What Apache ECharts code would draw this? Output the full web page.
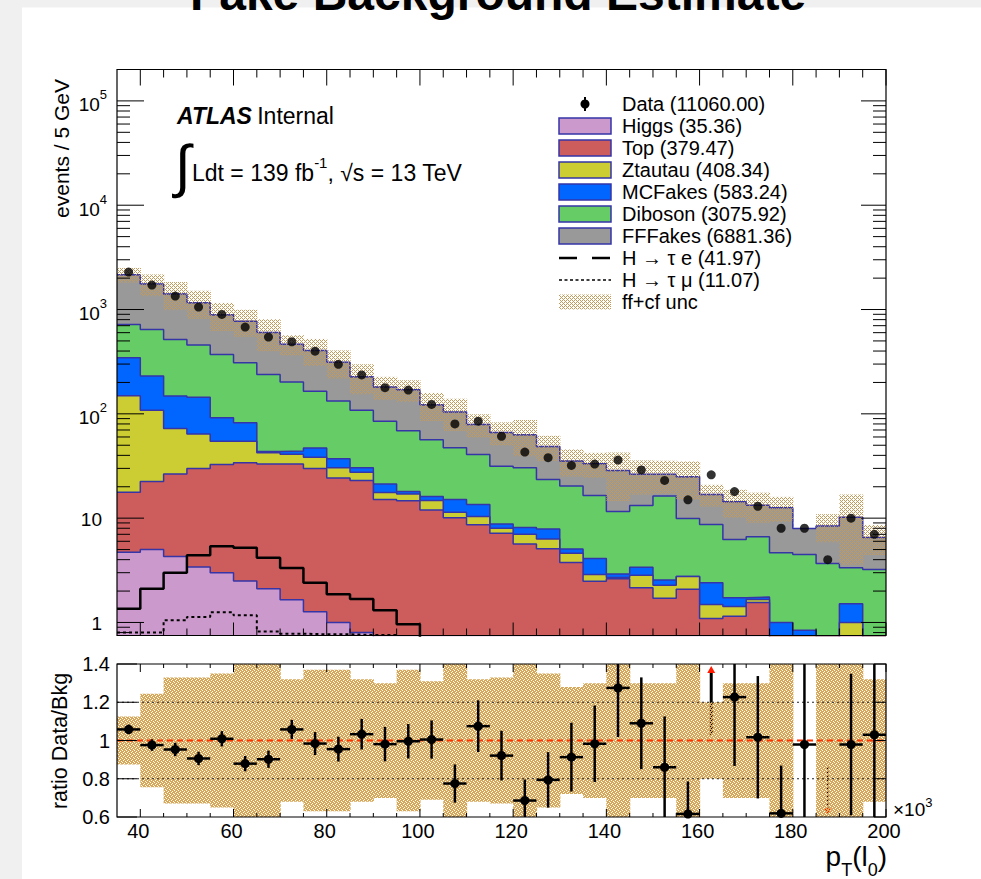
<!DOCTYPE html>
<html>
<head>
<meta charset="utf-8">
<title>Fake Background Estimate</title>
<script src="https://cdn.jsdelivr.net/npm/echarts@6.0.0/dist/echarts.min.js"></script>
<style>
html,body{margin:0;padding:0;background:#f0f0f0;overflow:hidden;}
#chart{width:981px;height:879px;}
</style>
</head>
<body>
<div id="chart"></div>
<script>
// ================= DATA =================
const binLowEdges = [35,40,45,50,55,60,65,70,75,80,85,90,95,100,105,110,115,120,125,130,135,140,145,150,155,160,165,170,175,180,185,190,195];
const BIN_WIDTH = 5;

// background components, events per bin
const higgs    = [4.7,5.0,4.3,3.4,3.0,2.5,2.1,1.65,1.27,1.0,0.8,0.6,0.5,0.4,0.35,0.3,0.25,0.2,0.15,0.1,0.1,0.1,0.05,0.05,0.05,0.05,0.05,0.05,0.02,0.02,0.02,0.02,0.02];
const topQuark = [13.0,17.4,22.2,26.6,29.7,31.5,30.9,31.35,28.7,23.2,22.2,14.5,14.2,11.6,9.75,8.35,6.9,5.45,4.94,3.66,2.39,2.52,2.1,1.66,2.03,1.04,1.1,1.5,0.48,0.28,0.18,0.58,0.28];
const ztautau  = [131,85.6,45.7,34,22,20.7,9.4,8,8.4,6.2,4.6,2.5,2.3,2.8,1.3,1.75,0.85,1.35,1.21,0.86,0.4,0.08,0.68,0.56,0.68,0.4,0.27,0.11,0.05,0,0,0.4,0];
const mcfakes  = [196,123,75.8,80,37.1,27.5,1.2,3,8.6,6.7,2.8,3.6,1.0,1.3,3.7,3.1,0.8,1.15,1.55,0.43,1.21,0.21,0.56,0.29,0,0.91,0.31,0.09,0.45,0.54,0.1,0.51,0.2];
const diboson  = [375,414,369,312,279,227,195,158,118,96,77.6,63.8,51,40.3,32.2,27.3,22.7,22.25,15.65,15.25,12.4,8.69,9.81,13.74,7.18,6.3,4.52,4.88,3.66,3.65,3.38,1.84,2.72];
const fffakes  = [1440,1112,894,708,519,463,365,262,240,179,119,96,101,65.6,56.7,38.4,34.8,32.7,25,15,16.8,17,13.1,10,15.06,8.2,8.15,6.67,7.94,3.47,4.72,6.85,3.3];

// signal histograms
const hTauE  = [1.35,2.1,3.0,4.42,5.39,5.2,4.17,3.32,2.4,1.86,1.68,1.31,0.96,0.7,0.55,0.45,0.35,0.3,0.25,0.2,0.15,0.12,0.1,0.08,0.07,0.06,0.05,0.04,0.03,0.03,0.02,0.02,0.02];
const hTauMu = [0.8,0.8,1.05,1.13,1.25,1.17,0.82,0.78,0.77,0.77,0.76,0.76,0.6,0.5,0.4,0.35,0.3,0.25,0.2,0.15,0.1,0.1,0.08,0.06,0.05,0.05,0.04,0.03,0.03,0.02,0.02,0.02,0.02];

// data
const dataCounts = [2285,1715,1345,1055,898,679,545,491,399,298,236,178,169,123,80,85,61,43,38,32,33,36,29,23,15,26,18,13,8,8,4,10,7];

// relative uncertainty band of the background (upper panel)
const bkgUncTop = [0.16,0.235,0.30,0.30,0.30,0.29,0.34,0.22,0.29,0.30,0.32,0.25,0.235,0.30,0.34,0.25,0.25,0.38,0.27,0.29,0.27,0.49,0.36,0.35,0.40,0.235,0.30,0.32,0.27,0,0.30,0.65,0.32];

// ratio panel
const ratioVals    = [1.058,0.976,0.953,0.906,1.009,0.879,0.902,1.058,0.984,0.955,1.033,0.981,0.996,1.005,0.775,1.075,0.921,0.686,0.794,0.913,0.983,1.275,1.09,0.86,0.616,1.52,1.227,1.017,0.619,0.979,0.46,0.979,1.03];
const ratioErr     = [0.025,0.03,0.035,0.035,0.04,0.04,0.045,0.05,0.06,0.065,0.08,0.09,0.09,0.1,0.1,0.135,0.13,0.11,0.145,0.18,0.2,0.257,0.24,0.266,0.17,0.49,0.36,0.32,0.25,0.75,0.41,0.37,0.6];
const ratioBandUnc = [0.125,0.245,0.33,0.33,0.35,0.45,0.45,0.32,0.37,0.37,0.32,0.30,0.37,0.31,0.45,0.32,0.33,0.45,0.35,0.28,0.30,0.45,0.30,0.30,0.45,0.20,0.30,0.30,0.45,0,0.40,0.45,0.32];

// axis tick labels
const xTickLabels     = [40,60,80,100,120,140,160,180,200];
const yLogTickLabels  = [1,10,100,1000,10000,100000];
const ratioTickLabels = [0.6,0.8,1,1.2,1.4];

// legend
const legendLabels = ['Data (11060.00)','Higgs (35.36)','Top (379.47)','Ztautau (408.34)','MCFakes (583.24)','Diboson (3075.92)','FFFakes (6881.36)','H \u2192 \u03c4 e (41.97)','H \u2192 \u03c4 \u03bc (11.07)','ff+cf unc'];

// ================= STYLE =================
const FONT = '"Liberation Sans", Arial, Helvetica, sans-serif';
const NAVY = '#3535a8';
const X_MIN = 35, X_MAX = 200, Y_MIN = 0.75, Y_MAX = 2e5, R_MIN = 0.6, R_MAX = 1.4;
const G0 = {left:117, top:69.5, width:769, height:566};
const G1 = {left:117, top:664, width:769, height:153};

const layers = [
  {name:'Higgs',   vals:higgs,    color:'#cc99cc'},
  {name:'Top',     vals:topQuark, color:'#cd5c5c'},
  {name:'Ztautau', vals:ztautau,  color:'#cccc33'},
  {name:'MCFakes', vals:mcfakes,  color:'#0066ff'},
  {name:'Diboson', vals:diboson,  color:'#66cc66'},
  {name:'FFFakes', vals:fffakes,  color:'#999999'}
];
let running = binLowEdges.map(() => 0);
const cumulative = layers.map(l => { running = running.map((r, i) => r + l.vals[i]); return running.slice(); });
const totalBkg = cumulative[cumulative.length - 1];

function makePattern(color, mask) {
  const h = mask.length, w = mask[0].length;
  const c = document.createElement('canvas'); c.width = w; c.height = h;
  const ctx = c.getContext('2d'); ctx.fillStyle = color;
  for (let y = 0; y < h; y++) for (let x = 0; x < w; x++) if (mask[y][x]) ctx.fillRect(x, y, 1, 1);
  return {image: c.toDataURL(), repeat: 'repeat', imageWidth: w, imageHeight: h};
}
const topPattern = makePattern('#c39a5a', [[1,0,1,0],[0,1,0,0],[1,0,1,0],[0,0,0,1]]);
const ratioPattern = makePattern('#d8a858', [[1,1,1,0],[1,0,1,1],[1,1,0,1],[0,1,1,1]]);

function stepPoints(vals, floor) {
  const pts = [];
  for (let i = 0; i < vals.length; i++) {
    const v = Math.max(vals[i], floor);
    pts.push([binLowEdges[i], v], [binLowEdges[i] + BIN_WIDTH, v]);
  }
  return pts;
}
function lineS(o) {
  return Object.assign({type:'line', symbol:'none', showSymbol:false, animation:false, silent:true, clip:true}, o);
}
function bandSeries(xi, yi, z, lowArr, highArr, pattern) {
  return {type:'custom', xAxisIndex:xi, yAxisIndex:yi, z:z, animation:false, silent:true,
    data:lowArr.map((l, i) => [binLowEdges[i] + BIN_WIDTH / 2, l, highArr[i]]),
    renderItem:function (params, api) {
      const i = params.dataIndex, lo = lowArr[i], hi = highArr[i];
      if (!(hi > lo)) return null;
      const cs = params.coordSys;
      const p1 = api.coord([binLowEdges[i], hi]), p2 = api.coord([binLowEdges[i] + BIN_WIDTH, lo]);
      const top = Math.max(p1[1], cs.y), bot = Math.min(p2[1], cs.y + cs.height);
      if (bot <= top) return null;
      const right = Math.min(p2[0] + 0.6, cs.x + cs.width);
      return {type:'rect', shape:{x:p1[0], y:top, width:right - p1[0], height:bot - top}, style:{fill:pattern}};
    }};
}

const xMinorTicks = []; for (let v = 40; v <= 200; v += 5) xMinorTicks.push(v);
const yLogMinor = [];
for (let n = -1; n <= 5; n++) for (let m = 2; m <= 9; m++) { const v = m * Math.pow(10, n); if (v > Y_MIN && v < Y_MAX) yLogMinor.push(v); }

const SUP_RICH = {
  b: {fontSize:19, fontFamily:FONT, fill:'#000', lineHeight:19},
  s: {fontSize:13, fontFamily:FONT, fill:'#000', lineHeight:13, padding:[0,0,20,0]}
};
function txt(x, y, text, extra) {
  return {type:'text', x:x, y:y, style:Object.assign({text:text, fontSize:19, fontFamily:FONT, fill:'#000',
    align:'left', textAlign:'left', verticalAlign:'middle', textVerticalAlign:'middle'}, extra || {})};
}

// ================= SERIES =================
const series = [];
// stacked backgrounds, largest cumulative first
for (let k = layers.length - 1; k >= 0; k--) {
  series.push(lineS({name:layers[k].name, xAxisIndex:0, yAxisIndex:0, z:2 + (layers.length - 1 - k),
    data:stepPoints(cumulative[k], 1e-3),
    lineStyle:{color:NAVY, width:1.5},
    areaStyle:{color:layers[k].color, opacity:1, origin:'start'}}));
}
// uncertainty band (upper)
series.push(bandSeries(0, 0, 8,
  totalBkg.map((t, i) => t * (1 - bkgUncTop[i])),
  totalBkg.map((t, i) => t * (1 + bkgUncTop[i])), topPattern));
// total outline
series.push(lineS({name:'total', xAxisIndex:0, yAxisIndex:0, z:9, data:stepPoints(totalBkg, 1e-3),
  lineStyle:{color:NAVY, width:1, type:[3,2]}}));
// signals
series.push(lineS({name:'H->tau e', xAxisIndex:0, yAxisIndex:0, z:10, data:stepPoints(hTauE, 1e-3),
  lineStyle:{color:'#000', width:2.5}}));
series.push(lineS({name:'H->tau mu', xAxisIndex:0, yAxisIndex:0, z:10, data:stepPoints(hTauMu, 1e-3),
  lineStyle:{color:'#000', width:2, type:[3,3]}}));
// data points
series.push({type:'scatter', name:'Data', xAxisIndex:0, yAxisIndex:0, z:11, symbol:'circle', symbolSize:9,
  itemStyle:{color:'#000'}, animation:false, silent:true,
  data:dataCounts.map((v, i) => [binLowEdges[i] + BIN_WIDTH / 2, v])});

// ratio: out-of-range arrows (below band)
series.push({type:'custom', name:'arrows', xAxisIndex:1, yAxisIndex:1, z:2, animation:false, silent:true,
  data:ratioVals.map((r, i) => [binLowEdges[i] + BIN_WIDTH / 2, r]),
  renderItem:function (params, api) {
    const i = params.dataIndex, r = ratioVals[i], e = ratioErr[i];
    if (r <= R_MAX && r >= R_MIN) return null;
    const xc = binLowEdges[i] + BIN_WIDTH / 2;
    const up = r > R_MAX;
    const pEdge = api.coord([xc, up ? R_MAX : R_MIN]);
    const pErr = api.coord([xc, up ? Math.max(r - e, R_MIN) : Math.min(r + e, R_MAX)]);
    const tipY = pEdge[1] + (up ? 2 : -3);
    const baseY = tipY + (up ? 7 : -6);
    return {type:'group', children:[
      {type:'line', shape:{x1:pErr[0], y1:pErr[1], x2:pEdge[0], y2:baseY}, style:{stroke:'#000', lineWidth:up ? 3 : 1.5}},
      {type:'polygon', shape:{points:[[pEdge[0], tipY], [pEdge[0] - 4, baseY], [pEdge[0] + 4, baseY]]}, style:{fill:'#ff1a00'}}
    ]};
  }});
// ratio band
series.push(bandSeries(1, 1, 3, ratioBandUnc.map(u => 1 - u), ratioBandUnc.map(u => 1 + u), ratioPattern));
// dotted reference lines
[0.8, 1.2].forEach(v => series.push(lineS({xAxisIndex:1, yAxisIndex:1, z:4, data:[[X_MIN, v], [X_MAX, v]],
  lineStyle:{color:'#222', width:1, type:[2,3]}})));
series.push(lineS({xAxisIndex:1, yAxisIndex:1, z:5, data:[[X_MIN, 1], [X_MAX, 1]],
  lineStyle:{color:'#ff3300', width:2, type:[6,4]}}));
// ratio points
series.push({type:'custom', name:'ratio', xAxisIndex:1, yAxisIndex:1, z:6, animation:false, silent:true,
  data:ratioVals.map((r, i) => [binLowEdges[i] + BIN_WIDTH / 2, r]),
  renderItem:function (params, api) {
    const i = params.dataIndex, r = ratioVals[i], e = ratioErr[i];
    if (r > R_MAX || r < R_MIN) return null;
    const x0 = binLowEdges[i], x1 = x0 + BIN_WIDTH, xc = x0 + BIN_WIDTH / 2;
    const pC = api.coord([xc, r]), pL = api.coord([x0, r]), pR = api.coord([x1, r]);
    const pU = api.coord([xc, Math.min(r + e, R_MAX)]), pD = api.coord([xc, Math.max(r - e, R_MIN)]);
    return {type:'group', children:[
      {type:'line', shape:{x1:pL[0], y1:pL[1], x2:pR[0], y2:pR[1]}, style:{stroke:'#000', lineWidth:2.5}},
      {type:'line', shape:{x1:pU[0], y1:pU[1], x2:pD[0], y2:pD[1]}, style:{stroke:'#000', lineWidth:2.5}},
      {type:'circle', shape:{cx:pC[0], cy:pC[1], r:4.6}, style:{fill:'#000'}}
    ]};
  }});

// frames, ticks and tick labels
function seg(ch, x1, y1, x2, y2, w) {
  ch.push({type:'line', shape:{x1:x1, y1:y1, x2:x2, y2:y2}, style:{stroke:'#000', lineWidth:w || 1}});
}
series.push({type:'custom', name:'frameTop', xAxisIndex:0, yAxisIndex:0, z:20, animation:false, silent:true,
  data:[[X_MIN, 1]],
  renderItem:function (params, api) {
    const cs = params.coordSys, L = cs.x, T = cs.y, R = cs.x + cs.width, B = cs.y + cs.height;
    const ch = [];
    xMinorTicks.forEach(v => {
      const x = api.coord([v, 1])[0], maj = xTickLabels.indexOf(v) >= 0;
      seg(ch, x, T, x, T + (maj ? 16 : 8)); seg(ch, x, B, x, B - (maj ? 13 : 7));
    });
    yLogMinor.forEach(v => { const y = api.coord([X_MIN, v])[1]; seg(ch, L, y, L + 13, y); seg(ch, R, y, R - 13, y); });
    yLogTickLabels.forEach(v => {
      const y = api.coord([X_MIN, v])[1];
      seg(ch, L, y, L + 27, y); seg(ch, R, y, R - 25, y);
      if (v < 100) {
        ch.push(txt(L - 15, y + 1, String(v), {align:'right', textAlign:'right'}));
      } else {
        const n = Math.round(Math.log10(v));
        ch.push(txt(L - 10, y + 4, '{b|10}{s|' + n + '}', {align:'right', textAlign:'right', rich:SUP_RICH}));
      }
    });
    ch.push({type:'rect', shape:{x:L, y:T, width:R - L, height:B - T}, style:{fill:'none', stroke:'#000', lineWidth:1.2}});
    return {type:'group', children:ch};
  }});
series.push({type:'custom', name:'frameRatio', xAxisIndex:1, yAxisIndex:1, z:20, animation:false, silent:true,
  data:[[X_MIN, 1]],
  renderItem:function (params, api) {
    const cs = params.coordSys, L = cs.x, T = cs.y, R = cs.x + cs.width, B = cs.y + cs.height;
    const ch = [];
    xMinorTicks.forEach(v => {
      const x = api.coord([v, 1])[0], maj = xTickLabels.indexOf(v) >= 0;
      seg(ch, x, T, x, T + (maj ? 8 : 4)); seg(ch, x, B, x, B - (maj ? 8 : 4));
      if (maj) ch.push(txt(x - 2, B + 14, String(v), {fontSize:20, align:'center', textAlign:'center'}));
    });
    ratioTickLabels.forEach(v => {
      const y = api.coord([X_MIN, v])[1];
      seg(ch, L, y, L + 20, y); seg(ch, R, y, R - 12, y);
      ch.push(txt(L - 7, y, String(v), {fontSize:20, align:'right', textAlign:'right'}));
    });
    ch.push({type:'rect', shape:{x:L, y:T, width:R - L, height:B - T}, style:{fill:'none', stroke:'#000', lineWidth:1.2}});
    return {type:'group', children:ch};
  }});

// ================= STATIC TEXT / LEGEND =================
const graphics = [];
graphics.push({type:'rect', z:0, shape:{x:22, y:7.5, width:981 - 22, height:879 - 7.5}, style:{fill:'#ffffff'}});
graphics.push(Object.assign(txt(498, -7, 'Fake Background Estimate', {fontSize:48, fontWeight:'bold', align:'center', textAlign:'center'}), {z:1}));
graphics.push(Object.assign(txt(177, 115.5, '{a|ATLAS} {n|Internal}', {rich:{
  a:{fontSize:23, fontFamily:FONT, fontWeight:'bold', fontStyle:'italic', fill:'#000'},
  n:{fontSize:23, fontFamily:FONT, fill:'#000'}}}), {z:1}));
graphics.push(Object.assign(txt(183, 165, '\u222b', {fontSize:58, align:'center', textAlign:'center'}), {z:1}));
graphics.push(Object.assign(txt(192, 172.5, '{m|Ldt = 139 fb}{s|-1}{m|, \u221as = 13 TeV}', {rich:{
  m:{fontSize:23, fontFamily:FONT, fill:'#000', lineHeight:23},
  s:{fontSize:15, fontFamily:FONT, fill:'#000', lineHeight:15, padding:[0,0,21,0]}}}), {z:1}));
// axis titles
graphics.push(Object.assign(txt(61, 148.5, 'events / 5 GeV', {fontSize:21, align:'center', textAlign:'center'}), {z:1, rotation:Math.PI / 2}));
graphics.push(Object.assign(txt(60, 741, 'ratio Data/Bkg', {fontSize:21.5, align:'center', textAlign:'center'}), {z:1, rotation:Math.PI / 2}));
graphics.push(Object.assign(txt(893, 809, '{b|\u00d710}{s|3}', {rich:{
  b:{fontSize:19, fontFamily:FONT, fill:'#000', lineHeight:19},
  s:{fontSize:13, fontFamily:FONT, fill:'#000', lineHeight:13, padding:[0,0,14,0]}}}), {z:1}));
graphics.push(Object.assign(txt(887, 856, '{m|p}{d|T}{m|(l}{d|0}{m|)}', {align:'right', textAlign:'right', rich:{
  m:{fontSize:28, fontFamily:FONT, fill:'#000', lineHeight:28},
  d:{fontSize:18, fontFamily:FONT, fill:'#000', lineHeight:18, padding:[28,0,0,0]}}}), {z:1}));

// legend
const LX = 559, LW = 52, LH = 16, LTX = 622;
legendLabels.forEach((label, i) => {
  const y = 104 + 22 * i;
  if (i === 0) {
    graphics.push({type:'line', z:30, shape:{x1:LX + LW / 2, y1:y - 7, x2:LX + LW / 2, y2:y + 7}, style:{stroke:'#000', lineWidth:2}});
    graphics.push({type:'circle', z:30, shape:{cx:LX + LW / 2, cy:y, r:4.5}, style:{fill:'#000'}});
  } else if (i >= 1 && i <= 6) {
    graphics.push({type:'rect', z:30, shape:{x:LX, y:y - LH / 2, width:LW, height:LH}, style:{fill:layers[i - 1].color, stroke:NAVY, lineWidth:1.5}});
  } else if (i === 7) {
    graphics.push({type:'line', z:30, shape:{x1:LX, y1:y, x2:LX + LW, y2:y}, style:{stroke:'#000', lineWidth:2.5, lineDash:[18, 15]}});
  } else if (i === 8) {
    graphics.push({type:'line', z:30, shape:{x1:LX, y1:y, x2:LX + LW, y2:y}, style:{stroke:'#000', lineWidth:1.5, lineDash:[3, 2.5]}});
  } else {
    graphics.push({type:'rect', z:30, shape:{x:LX, y:y - 7.5, width:LW, height:15}, style:{fill:topPattern}});
  }
  graphics.push(Object.assign(txt(LTX, y, label, {fontSize:20}), {z:30}));
});

// ================= CHART =================
const chart = echarts.init(document.getElementById('chart'), null, {renderer:'svg', width:981, height:879});
chart.setOption({
  backgroundColor:'#f0f0f0',
  animation:false,
  grid:[
    Object.assign({show:false, containLabel:false, outerBoundsMode:'none'}, G0),
    Object.assign({show:false, containLabel:false, outerBoundsMode:'none'}, G1)
  ],
  xAxis:[
    {gridIndex:0, type:'value', min:X_MIN, max:X_MAX, show:false},
    {gridIndex:1, type:'value', min:X_MIN, max:X_MAX, show:false}
  ],
  yAxis:[
    {gridIndex:0, type:'log', logBase:10, min:Y_MIN, max:Y_MAX, show:false},
    {gridIndex:1, type:'value', min:R_MIN, max:R_MAX, show:false}
  ],
  graphic:{elements:graphics},
  series:series
});
</script>
</body>
</html>
